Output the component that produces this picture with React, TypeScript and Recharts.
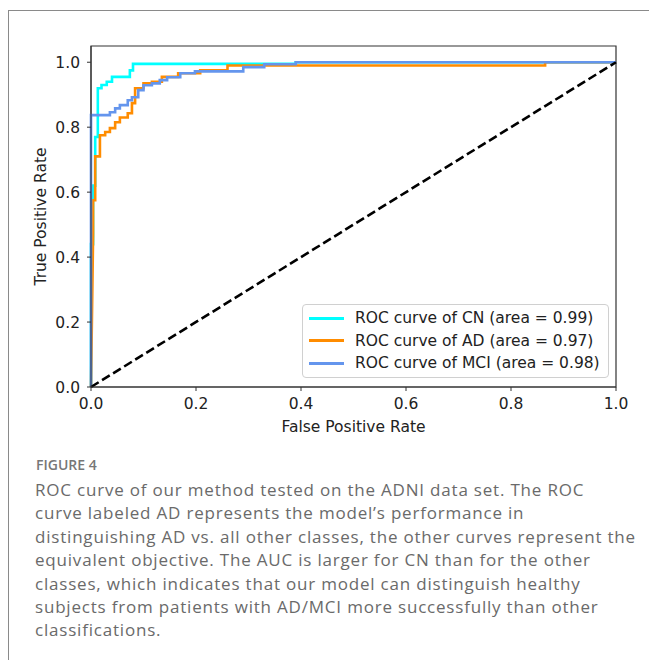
import { LineChart, Line, XAxis, YAxis, Legend, ReferenceArea } from 'recharts';

// ROC points (false positive rate / true positive rate)
const cnFpr = [0, 0, 0.004, 0.004, 0.008, 0.008, 0.013, 0.013, 0.02, 0.02, 0.03, 0.03, 0.04, 0.04, 0.074, 0.074, 0.08, 0.08, 0.39, 0.39, 1];
const cnTpr = [0, 0.44, 0.44, 0.62, 0.62, 0.77, 0.77, 0.92, 0.92, 0.93, 0.93, 0.94, 0.94, 0.955, 0.955, 0.975, 0.975, 0.995, 0.995, 1, 1];

const adFpr = [0, 0.004, 0.004, 0.008, 0.008, 0.017, 0.017, 0.027, 0.027, 0.036, 0.036, 0.046, 0.046, 0.055, 0.055, 0.07, 0.07, 0.078, 0.078, 0.084, 0.084, 0.1, 0.1, 0.116, 0.116, 0.135, 0.135, 0.166, 0.166, 0.208, 0.208, 0.26, 0.26, 0.865, 0.865, 1];
const adTpr = [0, 0.47, 0.575, 0.575, 0.71, 0.71, 0.775, 0.775, 0.785, 0.785, 0.797, 0.797, 0.815, 0.815, 0.83, 0.83, 0.843, 0.843, 0.874, 0.874, 0.92, 0.92, 0.935, 0.935, 0.94, 0.94, 0.955, 0.955, 0.966, 0.966, 0.975, 0.975, 0.99, 0.99, 1, 1];

const mciFpr = [0, 0, 0.036, 0.036, 0.046, 0.046, 0.055, 0.055, 0.07, 0.07, 0.078, 0.078, 0.09, 0.09, 0.1, 0.1, 0.116, 0.116, 0.131, 0.131, 0.145, 0.145, 0.17, 0.17, 0.198, 0.198, 0.29, 0.29, 0.33, 0.33, 0.39, 0.39, 1];
const mciTpr = [0, 0.837, 0.837, 0.846, 0.846, 0.858, 0.858, 0.868, 0.868, 0.883, 0.883, 0.892, 0.892, 0.914, 0.914, 0.929, 0.929, 0.935, 0.935, 0.945, 0.945, 0.954, 0.954, 0.966, 0.966, 0.972, 0.972, 0.985, 0.985, 0.994, 0.994, 1, 1];

const chanceFpr = [0, 1];
const chanceTpr = [0, 1];

const seriesNames = ['ROC curve of CN (area = 0.99)', 'ROC curve of AD (area = 0.97)', 'ROC curve of MCI (area = 0.98)'];

const ticks = [0, 0.2, 0.4, 0.6, 0.8, 1.0];

const captionLines = [
  'ROC curve of our method tested on the ADNI data set. The ROC',
  'curve labeled AD represents the model\u2019s performance in',
  'distinguishing AD vs. all other classes, the other curves represent the',
  'equivalent objective. The AUC is larger for CN than for the other',
  'classes, which indicates that our model can distinguish healthy',
  'subjects from patients with AD/MCI more successfully than other',
  'classifications.',
];

const zip = (xs: number[], ys: number[]) => xs.map((x, i) => ({ x, y: ys[i] }));

const cnData = zip(cnFpr, cnTpr);
const adData = zip(adFpr, adTpr);
const mciData = zip(mciFpr, mciTpr);
const chanceData = zip(chanceFpr, chanceTpr);

const mpl = "'DejaVu Sans', sans-serif";

const renderLegend = (props: any) => {
  const items = (props.payload || [])
    .filter((p: any) => seriesNames.includes(p.value))
    .sort((a: any, b: any) => seriesNames.indexOf(a.value) - seriesNames.indexOf(b.value));
  return (
    <div
      style={{
        border: '1px solid #d0d0d0',
        borderRadius: 4,
        background: 'rgba(255,255,255,0.85)',
        padding: '2px 0 2px 0',
        fontFamily: mpl,
        fontSize: 15.5,
        color: '#222',
      }}
    >
      {items.map((p: any) => (
        <div key={p.value} style={{ display: 'flex', alignItems: 'center', height: 22.5 }}>
          <span style={{ display: 'inline-block', width: 35, height: 3, background: p.color, marginLeft: 6, marginRight: 11 }} />
          <span>{p.value}</span>
        </div>
      ))}
    </div>
  );
};

const App = () => {
  return (
    <div style={{ position: 'fixed', left: 0, top: 0, width: 649, height: 660, background: '#fff', overflow: 'hidden' }}>
      <div style={{ position: 'absolute', left: 8, top: 10, width: 700, height: 700, borderTop: '1.5px solid #8a8a8a', borderLeft: '1.5px solid #8a8a8a' }} />

      <div style={{ position: 'absolute', left: 0, top: 0 }}>
        <LineChart width={649} height={440} margin={{ top: 46, right: 33, bottom: 0, left: 0 }}>
          <XAxis
            dataKey="x"
            type="number"
            domain={[0, 1]}
            ticks={ticks}
            tickFormatter={(v: number) => v.toFixed(1)}
            stroke="#333"
            tickSize={4}
            tickMargin={7}
            height={53}
            tick={{ fill: '#222', fontFamily: mpl, fontSize: 15.5 }}
            label={{ value: 'False Positive Rate', position: 'insideBottom', offset: 8, style: { fill: '#222', fontFamily: mpl, fontSize: 15.5 } }}
          />
          <YAxis
            dataKey="y"
            type="number"
            domain={[0, 1.05]}
            ticks={ticks}
            tickFormatter={(v: number) => v.toFixed(1)}
            stroke="#333"
            tickSize={4}
            tickMargin={7}
            width={91}
            tick={{ fill: '#222', fontFamily: mpl, fontSize: 15.5 }}
            label={{ value: 'True Positive Rate', angle: -90, position: 'insideLeft', offset: 40, style: { fill: '#222', fontFamily: mpl, fontSize: 15.5, textAnchor: 'middle' } }}
          />
          <ReferenceArea x1={0} x2={1} y1={0} y2={1.05} fill="none" stroke="#333" strokeWidth={1.2} />
          <Line data={cnData} dataKey="y" name={seriesNames[0]} stroke="#00ffff" strokeWidth={2.6} dot={false} type="linear" isAnimationActive={false} />
          <Line data={adData} dataKey="y" name={seriesNames[1]} stroke="#ff8c00" strokeWidth={2.6} dot={false} type="linear" isAnimationActive={false} />
          <Line data={mciData} dataKey="y" name={seriesNames[2]} stroke="#6495ed" strokeWidth={2.6} dot={false} type="linear" isAnimationActive={false} />
          <Line data={chanceData} dataKey="y" name="chance" stroke="#000" strokeWidth={2.6} strokeDasharray="9 4" dot={false} type="linear" legendType="none" isAnimationActive={false} />
          <Legend
            layout="horizontal"
            verticalAlign="middle"
            align="center"
            content={renderLegend}
            wrapperStyle={{ left: 302, top: 304, width: 307, height: 74 }}
          />
        </LineChart>
      </div>

      <div style={{ position: 'absolute', left: 36, top: 455, fontFamily: "'Open Sans', sans-serif", fontSize: 14, fontWeight: 600, color: '#777' }}>
        FIGURE 4
      </div>
      <div style={{ position: 'absolute', left: 35, top: 478, fontFamily: "'Open Sans', sans-serif", fontSize: 17, lineHeight: '23.4px', letterSpacing: '0.8px', color: '#6a6a6a', whiteSpace: 'nowrap' }}>
        {captionLines.map((t) => (
          <div key={t}>{t}</div>
        ))}
      </div>
    </div>
  );
};

export default App;
